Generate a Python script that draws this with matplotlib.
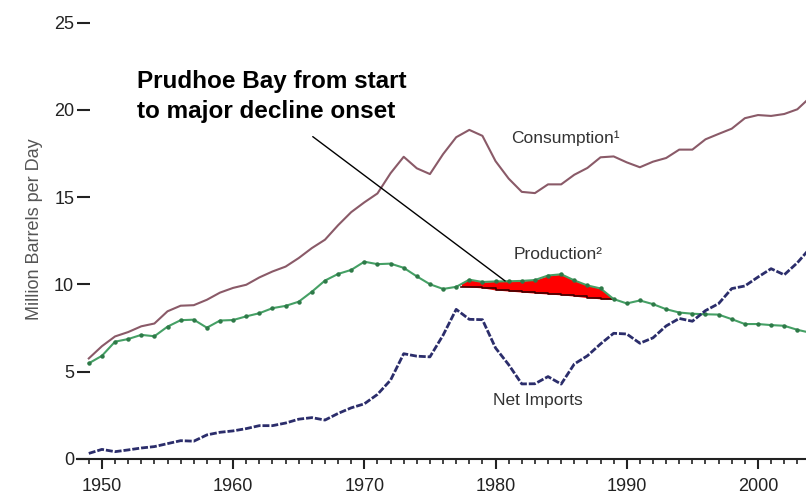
import numpy as np
import matplotlib
matplotlib.use('Agg')
import matplotlib.pyplot as plt

# =============================================================================
#                           data (million barrels per day)
# =============================================================================

years = np.arange(1949, 2005)

consumption = [5.76, 6.46, 7.02, 7.27, 7.60, 7.76, 8.46, 8.78, 8.81, 9.12,
               9.53, 9.80, 9.98, 10.40, 10.74, 11.02, 11.51, 12.08, 12.56, 13.39,
               14.14, 14.70, 15.21, 16.37, 17.31, 16.65, 16.32, 17.46, 18.43, 18.85,
               18.51, 17.06, 16.06, 15.30, 15.23, 15.73, 15.73, 16.28, 16.67, 17.28,
               17.33, 16.99, 16.71, 17.03, 17.24, 17.72, 17.72, 18.31, 18.62, 18.92,
               19.52, 19.70, 19.65, 19.76, 20.03, 20.73]

production = [5.48, 5.91, 6.72, 6.87, 7.11, 7.03, 7.58, 7.95, 7.98, 7.52,
              7.93, 7.96, 8.17, 8.35, 8.64, 8.77, 9.01, 9.58, 10.22, 10.60,
              10.83, 11.30, 11.16, 11.19, 10.95, 10.46, 10.01, 9.74, 9.86, 10.27,
              10.14, 10.17, 10.18, 10.20, 10.25, 10.51, 10.58, 10.23, 9.94, 9.77,
              9.16, 8.91, 9.08, 8.87, 8.58, 8.39, 8.32, 8.29, 8.27, 8.01,
              7.73, 7.73, 7.67, 7.63, 7.40, 7.23]

net_imports = [0.32, 0.55, 0.42, 0.52, 0.63, 0.71, 0.88, 1.05, 1.02, 1.38,
               1.53, 1.61, 1.74, 1.91, 1.91, 2.06, 2.28, 2.37, 2.23, 2.61,
               2.93, 3.16, 3.70, 4.52, 6.03, 5.89, 5.85, 7.09, 8.57, 8.00,
               7.98, 6.36, 5.40, 4.30, 4.31, 4.72, 4.29, 5.44, 5.91, 6.59,
               7.20, 7.16, 6.63, 6.94, 7.62, 8.05, 7.89, 8.50, 8.90, 9.76,
               9.91, 10.42, 10.90, 10.55, 11.24, 12.10]

# Prudhoe Bay wedge (top follows production, bottom = production without it)
pb_years = [1977.4, 1978, 1979, 1980, 1981, 1982, 1983, 1984, 1985, 1986, 1987, 1988, 1988.9]
pb_top = [10.10, 10.27, 10.14, 10.17, 10.18, 10.20, 10.25, 10.51, 10.58, 10.23, 9.94, 9.77, 9.20]
pb_bottom = [9.88, 9.85, 9.80, 9.68, 9.62, 9.56, 9.50, 9.45, 9.40, 9.33, 9.24, 9.17, 9.15]

yticks = [0, 5, 10, 15, 20, 25]
xticks = [1950, 1960, 1970, 1980, 1990, 2000]

c_cons = '#8a5a68'
c_prod = '#45a065'
c_imp = '#2b2d6b'

# =============================================================================
#                               Plotting
# =============================================================================

plt.rcParams['font.family'] = ['Liberation Sans', 'DejaVu Sans']

fig = plt.figure(figsize=(8.06, 4.96), dpi=100)
ax = fig.add_axes([0.0955, 0.0746, 0.9045, 0.9254])

ax.plot(years, consumption, color=c_cons, lw=1.5, zorder=3)
ax.fill_between(pb_years, pb_bottom, pb_top, color='#ff0000', lw=0, zorder=2)
ax.step(pb_years, pb_bottom, where='post', color='#3a0000', lw=1.2, zorder=2)
ax.plot(years, production, color=c_prod, lw=1.5, marker='o', ms=2.2,
        mfc='#2e7a48', mec='#2e7a48', zorder=3)
ax.plot(years, net_imports, color=c_imp, lw=2.0, ls=(0, (2.5, 0.7)), zorder=3)

ax.set_xlim(1948.1, 2003.66)
ax.set_ylim(0, 26.29)

# labels
ax.text(1985.3, 18.4, 'Consumption\u00b9', fontsize=12.5, color='#333333',
        ha='center', va='center')
ax.text(1984.8, 11.7, 'Production\u00b2', fontsize=12.5, color='#333333',
        ha='center', va='center')
ax.text(1983.2, 3.35, 'Net Imports', fontsize=12.5, color='#333333',
        ha='center', va='center')

ax.text(1952.7, 22.3, 'Prudhoe Bay from start\nto major decline onset',
        fontsize=17.5, fontweight='bold', color='black', ha='left', va='top',
        linespacing=1.4)
ax.annotate('', xy=(1980.9, 10.1), xytext=(1965.9, 18.56),
            arrowprops=dict(arrowstyle='-', color='black', lw=1))

ax.set_ylabel('Million Barrels per Day', fontsize=13, color='#555555', labelpad=8)

# axes styling
for s in ['top', 'right', 'left']:
    ax.spines[s].set_visible(False)
ax.spines['bottom'].set_color('#222222')
ax.spines['bottom'].set_linewidth(1.5)

ax.set_yticks(yticks)
ax.tick_params(axis='y', direction='in', length=9.5, width=1.5, pad=2,
               labelsize=13, colors='#222222')
ax.set_xticks(xticks)
ax.set_xticks(np.arange(1949, 2004), minor=True)
ax.tick_params(axis='x', which='major', direction='out', length=7.2, width=1.5,
               labelsize=13, colors='#222222', pad=6.5)
ax.tick_params(axis='x', which='minor', direction='out', length=3.6, width=1.2,
               colors='#222222')

fig.savefig('out.png', dpi=100)
